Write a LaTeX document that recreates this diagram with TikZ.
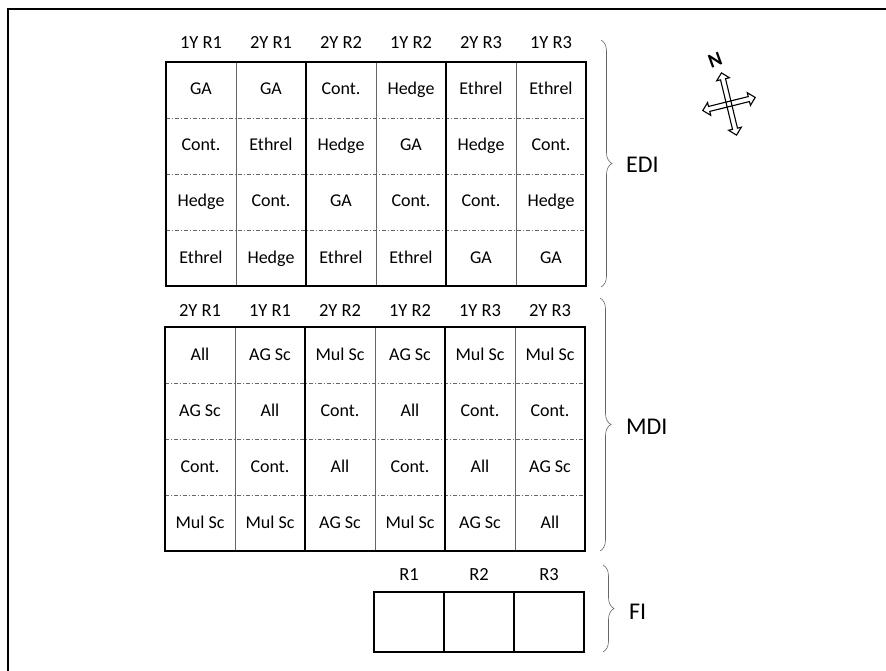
\documentclass[tikz,border=0pt]{standalone}
\usepackage{fontspec}
\setmainfont{Carlito}
\usetikzlibrary{positioning, shapes.arrows, decorations.pathreplacing}

\begin{document}
\begin{tikzpicture}[
    x=1pt, y=-1pt,
    cell/.style={font=\fontsize{18}{20}\selectfont, inner sep=0pt, text height=11pt, text depth=3pt},
    head/.style={font=\fontsize{18.5}{20}\selectfont, inner sep=0pt, text height=11pt, text depth=3pt},
    block/.style={font=\fontsize{24}{26}\selectfont, inner sep=0pt, text height=15pt, text depth=0pt},
    outer/.style={line width=2pt},
    pair/.style={line width=1.4pt},
    inner/.style={line width=0.6pt, black!60},
    row/.style={line width=0.6pt, black!60, dash pattern=on 4pt off 2pt on 1pt off 2pt},
    curly/.style={decorate, decoration={brace, amplitude=11pt}, line width=0.6pt, black!60},
    pointer/.style={double arrow, draw, line width=1.1pt, inner sep=2pt, double arrow head extend=4pt}
]
\useasboundingbox (0,0) rectangle (886,671);

% --- frame ---
\draw[line width=2.2pt] (8,671) -- (8,9) -- (886,9);

% --- EDI ---
\foreach \lab [count=\c] in {1Y R1, 2Y R1, 2Y R2, 1Y R2, 2Y R3, 1Y R3}
    \node[head] (eh\c) at (131+70*\c, 45) {\lab};
\foreach \rowtext [count=\r] in {
    {GA, GA, Cont., Hedge, Ethrel, Ethrel},
    {Cont., Ethrel, Hedge, GA, Hedge, Cont.},
    {Hedge, Cont., GA, Cont., Cont., Hedge},
    {Ethrel, Hedge, Ethrel, Ethrel, GA, GA}}
    \foreach \lab [count=\c] in \rowtext
        \node[cell] (e\r\c) at (131+70*\c, 35+56*\r) {\lab};
\foreach \y in {118, 174, 230}
    \draw[row] (166,\y) -- (586,\y);
\foreach \x in {236, 376, 516}
    \draw[inner] (\x,62) -- (\x,286);
\foreach \x in {306, 446}
    \draw[pair] (\x,62) -- (\x,286);
\draw[outer] (166,62) rectangle (586,286);

% --- MDI ---
\foreach \lab [count=\c] in {2Y R1, 1Y R1, 2Y R2, 1Y R2, 1Y R3, 2Y R3}
    \node[head] (mh\c) at (130+70*\c, 312) {\lab};
\foreach \rowtext [count=\r] in {
    {All, AG Sc, Mul Sc, AG Sc, Mul Sc, Mul Sc},
    {AG Sc, All, Cont., All, Cont., Cont.},
    {Cont., Cont., All, Cont., All, AG Sc},
    {Mul Sc, Mul Sc, AG Sc, Mul Sc, AG Sc, All}}
    \foreach \lab [count=\c] in \rowtext
        \node[cell] (m\r\c) at (130+70*\c, 300+56*\r) {\lab};
\foreach \y in {383, 439, 495}
    \draw[row] (165,\y) -- (585,\y);
\foreach \x in {235, 375, 515}
    \draw[inner] (\x,327) -- (\x,551);
\foreach \x in {305, 445}
    \draw[pair] (\x,327) -- (\x,551);
\draw[outer] (165,327) rectangle (585,551);

% --- FI ---
\foreach \lab [count=\c] in {R1, R2, R3}
    \node[head] (fh\c) at (339+70*\c, 576) {\lab};
\foreach \x in {444, 514}
    \draw[pair] (\x,592) -- (\x,652);
\draw[outer] (374,592) rectangle (584,652);

% --- braces ---
\coordinate (ediTop) at (601,40);
\coordinate (ediBot) at (601,287);
\coordinate (ediMid) at (612,165);
\draw[curly] (ediTop) -- (ediBot);
\node[block, right=14pt of ediMid] (edi) {EDI};

\coordinate (mdiTop) at (600,298);
\coordinate (mdiBot) at (600,551);
\coordinate (mdiMid) at (611,427);
\draw[curly] (mdiTop) -- (mdiBot);
\node[block, right=15pt of mdiMid] (mdi) {MDI};

\coordinate (fiTop) at (603,565);
\coordinate (fiBot) at (603,652);
\coordinate (fiMid) at (614,612);
\draw[curly] (fiTop) -- (fiBot);
\node[block, right=15pt of fiMid] (fi) {FI};

% --- compass ---
\node[pointer, minimum height=64pt, rotate=103.6] (ns) at (729,104) {};
\node[pointer, minimum height=54pt, rotate=14] (ew) at (729,104) {};
\node[font=\bfseries\fontsize{20}{20}\selectfont, rotate=20] (north) at (715,60) {N};

\end{tikzpicture}
\end{document}
